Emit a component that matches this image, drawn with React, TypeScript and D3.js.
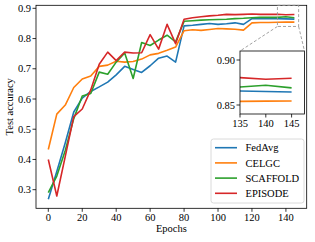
import React from "react";
import * as d3 from "d3";

const epochs = [0, 5, 10, 15, 20, 25, 30, 35, 40, 45, 50, 55, 60, 65, 70, 75, 80, 85, 90, 95, 100, 105, 110, 115, 120, 125, 130, 135, 140, 145];

const fedAvg = [0.268, 0.36, 0.455, 0.557, 0.603, 0.625, 0.64, 0.656, 0.68, 0.708, 0.698, 0.688, 0.71, 0.735, 0.742, 0.722, 0.842, 0.844, 0.847, 0.85, 0.847, 0.849, 0.852, 0.847, 0.866, 0.866, 0.866, 0.8656, 0.865, 0.8644];
const celgc = [0.433, 0.55, 0.58, 0.638, 0.666, 0.676, 0.708, 0.712, 0.725, 0.722, 0.724, 0.732, 0.746, 0.751, 0.761, 0.772, 0.826, 0.829, 0.827, 0.83, 0.833, 0.832, 0.831, 0.828, 0.852, 0.853, 0.853, 0.854, 0.8543, 0.8545];
const scaffold = [0.29, 0.345, 0.43, 0.535, 0.61, 0.618, 0.689, 0.682, 0.722, 0.752, 0.668, 0.787, 0.777, 0.795, 0.811, 0.789, 0.857, 0.859, 0.861, 0.862, 0.863, 0.864, 0.866, 0.867, 0.869, 0.87, 0.87, 0.87, 0.872, 0.869];
const episode = [0.4, 0.279, 0.41, 0.542, 0.567, 0.63, 0.715, 0.755, 0.727, 0.755, 0.752, 0.753, 0.813, 0.765, 0.847, 0.783, 0.864, 0.869, 0.872, 0.875, 0.877, 0.88, 0.879, 0.88, 0.881, 0.88, 0.88, 0.8804, 0.8786, 0.8797];

const seriesNames = ["FedAvg", "CELGC", "SCAFFOLD", "EPISODE"];
const seriesColors = ["#1f77b4", "#ff7f0e", "#2ca02c", "#d62728"];
const seriesValues = [fedAvg, celgc, scaffold, episode];

const xTicks = [0, 20, 40, 60, 80, 100, 120, 140];
const yTicks = [0.3, 0.4, 0.5, 0.6, 0.7, 0.8, 0.9];
const insetXTicks = [135, 140, 145];
const insetYTicks = [0.85, 0.9];

const xDomain = [-7.25, 152.25];
const yDomain = [0.2384, 0.91];
const insetXDomain = [135, 147.5];
const insetYDomain = [0.84, 0.91];

const FONT = "'Liberation Serif', 'Times New Roman', serif";

export default function App() {
  const W = 315, H = 242;
  const L = 36, R = 306.7, T = 5.3, B = 208.3;
  const x = d3.scaleLinear().domain(xDomain).range([L, R]);
  const y = d3.scaleLinear().domain(yDomain).range([B, T]);

  const iL = 240, iR = 304.5, iT = 51, iB = 114;
  const ix = d3.scaleLinear().domain(insetXDomain).range([iL, iR]);
  const iy = d3.scaleLinear().domain(insetYDomain).range([iB, iT]);

  const line = d3.line<number>().x((_, i) => x(epochs[i])).y((d) => y(d));
  const iline = d3.line<number>().x((_, i) => ix(epochs[i])).y((d) => iy(d));

  const rx0 = x(insetXDomain[0]), rx1 = x(insetXDomain[1]);
  const ry0 = y(insetYDomain[1]), ry1 = y(insetYDomain[0]);

  const fs = 10.5;
  const legX = 211, legY = 139, legW = 93, legH = 64;

  return (
    <svg width={W} height={H} style={{ position: "absolute", left: 0, top: 0 }} fontFamily={FONT}>
      <defs>
        <clipPath id="mainclip"><rect x={L} y={T} width={R - L} height={B - T} /></clipPath>
        <clipPath id="insetclip"><rect x={iL} y={iT} width={iR - iL} height={iB - iT} /></clipPath>
      </defs>
      <rect x={0} y={0} width={W} height={H} fill="white" />
      <g clipPath="url(#mainclip)">
        {seriesValues.map((vals, k) => (
          <path key={k} d={line(vals) || ""} fill="none" stroke={seriesColors[k]} strokeWidth={1.6} strokeLinejoin="round" />
        ))}
      </g>
      {/* axes frame */}
      <rect x={L} y={T} width={R - L} height={B - T} fill="none" stroke="black" strokeWidth={0.8} />
      {xTicks.map((t) => (
        <g key={"x" + t}>
          <line x1={x(t)} x2={x(t)} y1={B} y2={B + 3.5} stroke="black" strokeWidth={0.8} />
          <text x={x(t)} y={B + 13} fontSize={fs} textAnchor="middle" fill="black">{t}</text>
        </g>
      ))}
      {yTicks.map((t) => (
        <g key={"y" + t}>
          <line x1={L - 3.5} x2={L} y1={y(t)} y2={y(t)} stroke="black" strokeWidth={0.8} />
          <text x={L - 5} y={y(t) + 3.6} fontSize={fs} textAnchor="end" fill="black">{t.toFixed(1)}</text>
        </g>
      ))}
      <text x={(L + R) / 2} y={232} fontSize={fs} textAnchor="middle" fill="black">Epochs</text>
      <text transform={`translate(13,${(T + B) / 2}) rotate(-90)`} fontSize={fs} textAnchor="middle" fill="black">Test accuracy</text>

      {/* zoom rectangle and connectors */}
      <rect x={rx0} y={ry0} width={rx1 - rx0} height={ry1 - ry0} fill="none" stroke="#999" strokeWidth={0.9} strokeDasharray="3,2" />
      <line x1={rx0} y1={ry1} x2={iL} y2={iT} stroke="#999" strokeWidth={0.9} strokeDasharray="3,2" />
      <line x1={rx1} y1={ry1} x2={iR} y2={iT} stroke="#999" strokeWidth={0.9} strokeDasharray="3,2" />

      {/* inset */}
      <rect x={iL} y={iT} width={iR - iL} height={iB - iT} fill="white" />
      <g clipPath="url(#insetclip)">
        {seriesValues.map((vals, k) => (
          <path key={k} d={iline(vals) || ""} fill="none" stroke={seriesColors[k]} strokeWidth={1.6} />
        ))}
      </g>
      <rect x={iL} y={iT} width={iR - iL} height={iB - iT} fill="none" stroke="black" strokeWidth={0.8} />
      {insetXTicks.map((t) => (
        <g key={"ix" + t}>
          <line x1={ix(t)} x2={ix(t)} y1={iB} y2={iB + 3.5} stroke="black" strokeWidth={0.8} />
          <text x={ix(t)} y={iB + 13} fontSize={fs} textAnchor="middle" fill="black">{t}</text>
        </g>
      ))}
      {insetYTicks.map((t) => (
        <g key={"iy" + t}>
          <line x1={iL - 3.5} x2={iL} y1={iy(t)} y2={iy(t)} stroke="black" strokeWidth={0.8} />
          <text x={iL - 5} y={iy(t) + 3.6} fontSize={fs} textAnchor="end" fill="black">{t.toFixed(2)}</text>
        </g>
      ))}

      {/* legend */}
      <rect x={legX} y={legY} width={legW} height={legH} rx={2.5} fill="white" fillOpacity={0.8} stroke="#d0d0d0" strokeWidth={0.8} />
      {seriesNames.map((n, k) => {
        const ry = legY + 8.7 + k * 15.2;
        return (
          <g key={n}>
            <line x1={legX + 4} x2={legX + 26} y1={ry} y2={ry} stroke={seriesColors[k]} strokeWidth={1.6} />
            <text x={legX + 34.5} y={ry + 3.6} fontSize={fs} fill="black">{n}</text>
          </g>
        );
      })}
    </svg>
  );
}
